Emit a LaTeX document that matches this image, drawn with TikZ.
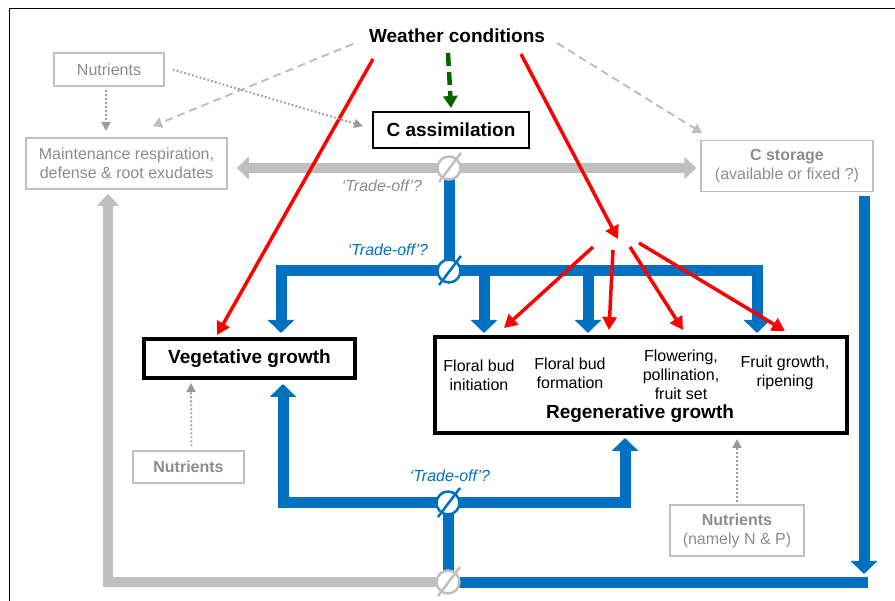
\documentclass[tikz,border=0pt]{standalone}
\usepackage{fontspec}
\setmainfont{Liberation Sans}
\usetikzlibrary{arrows.meta}
\definecolor{flowblue}{HTML}{0070C0}
\definecolor{boxgray}{HTML}{BFBFBF}
\definecolor{txtgray}{HTML}{8C8C8C}
\definecolor{dotgray}{HTML}{9A9A9A}
\definecolor{wgreen}{HTML}{006600}
\tikzset{
  grbox/.style={draw=boxgray, line width=1.5pt, text=txtgray, align=center, inner sep=0pt,
    font=\fontsize{16}{19}\selectfont},
  blkbox/.style={draw=black, align=center, inner sep=0pt, font=\fontsize{19}{22}\selectfont\bfseries},
  stagetxt/.style={align=center, inner sep=0pt, font=\fontsize{16}{19}\selectfont},
  tradelbl/.style={font=\fontsize{16}{19}\selectfont\itshape, inner sep=0pt},
  tradeoff/.style={circle, draw=#1, fill=white, line width=2.5pt, minimum size=23pt, inner sep=0pt},
  blueflow/.style={draw=flowblue, line width=11pt},
  grayflow/.style={draw=boxgray, line width=10pt},
  bigtip/.tip={Triangle[width=26pt,length=13pt]},
  graytip/.tip={Triangle[width=22pt,length=12pt]},
  redarrow/.style={draw=red, line width=3.5pt, -{Triangle[width=14pt,length=13pt]}},
  dasharrow/.style={draw=boxgray, line width=2pt, dash pattern=on 8pt off 5pt,
    -{Triangle[width=11pt,length=9pt]}},
  dotarrow/.style={draw=dotgray, line width=1.8pt, dash pattern=on 1.8pt off 2.2pt,
    -{Triangle[width=9pt,length=9pt]}},
}
\begin{document}
\begin{tikzpicture}[x=1pt,y=-1pt]
  \useasboundingbox (0,0) rectangle (895,601);
  \draw[line width=1.3pt] (9.5,610) |- (905,8.5);

  % boxes
  \node[font=\fontsize{19}{22}\selectfont\bfseries] (weather) at (457,36) {Weather conditions};
  \node[grbox, minimum width=110pt, minimum height=33pt] (nutA) at (109,69.5) {Nutrients};
  \node[grbox, minimum width=201pt, minimum height=51pt] (maint) at (126.5,163.5)
    {Maintenance respiration,\\defense \& root exudates};
  \node[blkbox, line width=2.5pt, minimum width=156pt, minimum height=36pt] (cassim) at (451,130) {C assimilation};
  \node[grbox, minimum width=172pt, minimum height=51pt] (cstore) at (787,166)
    {\textbf{C storage}\\(available or fixed ?)};
  \node[blkbox, line width=4pt, minimum width=211pt, minimum height=39pt] (veg) at (249.5,358.5) {Vegetative growth};
  \node[blkbox, line width=3.5pt, minimum width=412pt, minimum height=96pt] (regen) at (641,385) {};
  \node[stagetxt] (s1) at (479,375) {Floral bud\\initiation};
  \node[stagetxt] (s2) at (570,373) {Floral bud\\formation};
  \node[stagetxt] (s3) at (681,375) {Flowering,\\pollination,\\fruit set};
  \node[stagetxt] (s4) at (785,373) {Fruit growth,\\ripening};
  \node[font=\fontsize{19}{22}\selectfont\bfseries, inner sep=0pt] (regtitle) at (640,414) {Regenerative growth};
  \node[grbox, font=\fontsize{16}{19}\selectfont\bfseries, minimum width=111pt, minimum height=32pt] (nutB) at (188.5,467) {Nutrients};
  \node[grbox, minimum width=134pt, minimum height=51pt] (nutC) at (737,530.5)
    {\textbf{Nutrients}\\(namely N \& P)};

  % trade-off points
  \coordinate (t1c) at (449,168);
  \coordinate (t2c) at (449,271);
  \coordinate (t3c) at (448,503);
  \coordinate (t4c) at (448,582);
  \coordinate (vegIn) at (281,333);
  \coordinate (st1In) at (484,333);
  \coordinate (st2In) at (588,333);
  \coordinate (st4In) at (757,333);
  \coordinate (vegOut) at (283,384);
  \coordinate (regOut) at (625,438);
  \coordinate (maintOut) at (108,194);
  \coordinate (storeTop) at (864,196);
  \coordinate (storeDown) at (864,574);
  \coordinate (lineEnd) at (868,582);

  % carbon flows
  \draw[grayflow, graytip-graytip] ([xshift=9pt]maint.east |- t1c) -- ([xshift=-4pt]cstore.west |- t1c);
  \draw[blueflow] (t1c) -- (t2c);
  \draw[blueflow, -bigtip] (t2c) -| (vegIn);
  \draw[blueflow, -bigtip] (t2c) -| (st4In);
  \draw[blueflow, -bigtip] (st1In |- t2c) -- (st1In);
  \draw[blueflow, -bigtip] (st2In |- t2c) -- (st2In);
  \draw[blueflow, -bigtip] (t3c) -| (vegOut);
  \draw[blueflow, -bigtip] (t3c) -| (regOut);
  \draw[blueflow] (t3c) -- (t4c);
  \draw[grayflow, -graytip] (t4c) -| (maintOut);
  \draw[blueflow] (t4c) -- (lineEnd);
  \draw[blueflow, -bigtip] (storeTop) -- (storeDown);

  \node[tradeoff=boxgray] (t1) at (t1c) {};
  \node[tradeoff=flowblue] (t2) at (t2c) {};
  \node[tradeoff=flowblue] (t3) at (t3c) {};
  \node[tradeoff=boxgray] (t4) at (t4c) {};
  \foreach \t/\c in {t1/boxgray, t2/flowblue, t3/flowblue, t4/boxgray}
    \draw[\c, line width=2.5pt] ([shift={(-10,14)}]\t.center) -- ([shift={(12,-15)}]\t.center);

  \node[tradelbl, text=txtgray] (lbl1) at (382,186) {‘Trade-off’?};
  \node[tradelbl, text=flowblue] (lbl2) at (388,250) {‘Trade-off’?};
  \node[tradelbl, text=flowblue] (lbl3) at (450,476) {‘Trade-off’?};

  % weather effects
  \draw[wgreen, line width=4.5pt, dash pattern=on 13pt off 6pt, -{Triangle[width=14pt,length=12pt]}]
    (448,53) -- (cassim.north |- 0,108);
  \draw[dasharrow] (353,44) -- (153,126);
  \draw[dasharrow] (557,43) -- (702,133);
  \draw[redarrow] (373,59) -- (217,335);
  \coordinate (fan) at (618,239);
  \draw[redarrow] (521,54) -- (fan);
  \draw[redarrow] (593,247) -- (504,328);
  \draw[redarrow] (613,250) -- (609,330);
  \draw[redarrow] (630,247) -- (683,330);
  \draw[redarrow] (639,243) -- (785,331);

  % nutrients
  \draw[dotarrow] (nutA.east) ++(8,0) -- (363,126);
  \draw[dotarrow] (nutA.south) ++(-3,3) -- (106,131);
  \draw[dotarrow] (nutB.north) ++(3,-4) -- (191,383);
  \draw[dotarrow] (nutC.north) ++(0,-2) -- (737,439);
\end{tikzpicture}
\end{document}
